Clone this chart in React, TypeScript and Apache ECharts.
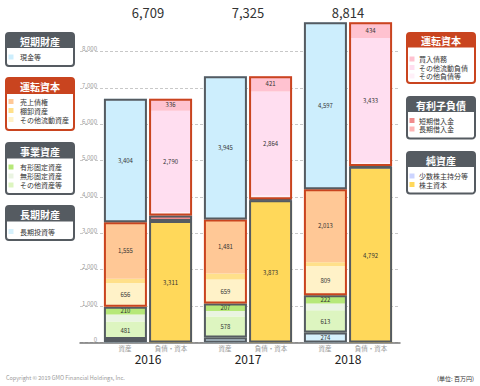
import React, { useEffect, useRef } from 'react';
import * as echarts from 'echarts';

const years = ['2016', '2017', '2018'];
// 資産 (assets), bottom -> top
const longTermInvestments = [93, 135, 274];
const otherAssets = [481, 578, 613];
const intangibleAssets = [195, 150, 186];
const tangibleAssets = [210, 207, 222];
const otherCurrentAssets = [656, 659, 809];
const inventories = [115, 170, 100];
const receivables = [1555, 1481, 2013];
const cash = [3404, 3945, 4597];
// 負債・資本 (liabilities & equity), bottom -> top
const shareholdersEquity = [3311, 3873, 4792];
const minorityInterests = [32, 42, 45];
const longTermLoans = [30, 0, 0];
const shortTermLoans = [120, 25, 20];
const otherLiabilities = [90, 100, 90];
const otherCurrentLiabilities = [2790, 2864, 3433];
const payables = [336, 421, 434];

const yTickStep = 1000;
const yMax = 9000;

const FONT = '"Noto Sans CJK JP", "Noto Sans", sans-serif';
const GRAY = '#555b61';
const RED = '#c9441f';

const C = {
  cash: '#cdeefd',
  receivables: '#ffc896',
  inventories: '#ffe08a',
  otherCurrentAssets: '#fff2c8',
  tangible: '#b6e879',
  intangible: '#eaf4e2',
  otherAssets: '#ddf5c0',
  longTerm: '#d6f1fc',
  payables: '#ffc2d0',
  otherCurrentLiab: '#ffdef0',
  otherLiab: '#fff0f8',
  shortLoans: '#f08c8c',
  longLoans: '#ffb6b6',
  minority: '#ccd4ff',
  equity: '#ffd85a',
};

const sum = (...arrs: number[][]) => arrs[0].map((_, i) => arrs.reduce((s, a) => s + a[i], 0));
const totals = sum(longTermInvestments, otherAssets, intangibleAssets, tangibleAssets, otherCurrentAssets, inventories, receivables, cash);
const fmt = (v: number) => v.toLocaleString('en-US');

const assetSegments = [
  { name: '長期投資等', data: longTermInvestments, color: C.longTerm },
  { name: 'その他資産等', data: otherAssets, color: C.otherAssets },
  { name: '無形固定資産', data: intangibleAssets, color: C.intangible },
  { name: '有形固定資産', data: tangibleAssets, color: C.tangible },
  { name: 'その他流動資産', data: otherCurrentAssets, color: C.otherCurrentAssets },
  { name: '棚卸資産', data: inventories, color: C.inventories },
  { name: '売上債権', data: receivables, color: C.receivables },
  { name: '現金等', data: cash, color: C.cash },
];
const liabSegments = [
  { name: '株主資本', data: shareholdersEquity, color: C.equity },
  { name: '少数株主持分等', data: minorityInterests, color: C.minority },
  { name: '長期借入金', data: longTermLoans, color: C.longLoans },
  { name: '短期借入金', data: shortTermLoans, color: C.shortLoans },
  { name: 'その他負債等', data: otherLiabilities, color: C.otherLiab },
  { name: 'その他流動負債', data: otherCurrentLiabilities, color: C.otherCurrentLiab },
  { name: '買入債務', data: payables, color: C.payables },
];
const assetGroups = [
  { data: longTermInvestments, frame: GRAY },
  { data: sum(otherAssets, intangibleAssets, tangibleAssets), frame: GRAY },
  { data: sum(otherCurrentAssets, inventories, receivables), frame: RED },
  { data: cash, frame: GRAY },
];
const liabGroups = [
  { data: sum(shareholdersEquity, minorityInterests), frame: GRAY },
  { data: sum(longTermLoans, shortTermLoans), frame: GRAY },
  { data: sum(otherLiabilities, otherCurrentLiabilities, payables), frame: RED },
];

const BAR_W = 43;
const BAR_GAP = '5%';

function segSeries(seg: any, stack: string) {
  return {
    type: 'bar', name: seg.name, stack, xAxisIndex: 1, yAxisIndex: 1,
    data: seg.data, barWidth: BAR_W, barGap: BAR_GAP,
    itemStyle: { color: seg.color },
    label: {
      show: true, position: 'inside', fontSize: 6, color: '#333', fontFamily: FONT,
      formatter: (p: any) => (p.value >= 200 ? fmt(p.value) : ''),
    },
    silent: true,
  };
}
function frameSeries(g: any, stack: string) {
  return {
    type: 'bar', stack, xAxisIndex: 3, yAxisIndex: 1,
    data: g.data, barWidth: BAR_W, barGap: BAR_GAP,
    itemStyle: { color: 'rgba(0,0,0,0)', borderColor: g.frame, borderWidth: 2 },
    label: { show: false }, silent: true, z: 5,
  };
}

function legendBox(x: number, y: number, w: number, h: number, headH: number, title: string, frame: string,
  items: { name: string; color: string }[], firstY: number, step: number, sqOff: number, txtOff: number) {
  const children: any[] = [
    { type: 'rect', shape: { x, y, width: w, height: h, r: 3 }, style: { fill: '#fff', stroke: frame, lineWidth: 2 } },
    { type: 'rect', shape: { x, y, width: w, height: headH, r: [3, 3, 0, 0] }, style: { fill: frame } },
    { type: 'text', x: x + w / 2, y: y + headH / 2 + 0.5, style: { text: title, fill: '#fff', fontSize: 10, fontWeight: 'bold', fontFamily: FONT, align: 'center', verticalAlign: 'middle' } },
  ];
  items.forEach((it, i) => {
    const cy = firstY + i * step;
    children.push({ type: 'rect', shape: { x: x + sqOff, y: cy - 2.5, width: 5, height: 5 }, style: { fill: it.color } });
    children.push({ type: 'text', x: x + txtOff, y: cy, style: { text: it.name, fill: '#333', fontSize: 7, fontFamily: FONT, align: 'left', verticalAlign: 'middle' } });
  });
  return { type: 'group', children };
}

const graphics = [
  legendBox(6, 33, 68, 33, 15, '短期財産', GRAY, [{ name: '現金等', color: C.cash }], 57, 9, 2.5, 14),
  legendBox(6, 78, 68, 52, 16, '運転資本', RED, [
    { name: '売上債権', color: C.receivables },
    { name: '棚卸資産', color: C.inventories },
    { name: 'その他流動資産', color: C.otherCurrentAssets },
  ], 101.5, 9, 2.5, 14),
  legendBox(6, 143, 68, 51, 15.5, '事業資産', GRAY, [
    { name: '有形固定資産', color: C.tangible },
    { name: '無形固定資産', color: C.intangible },
    { name: 'その他資産等', color: C.otherAssets },
  ], 167, 9, 2.5, 14),
  legendBox(6, 206, 68, 34, 15.5, '長期財産', GRAY, [{ name: '長期投資等', color: C.longTerm }], 231.5, 9, 2.5, 14),
  legendBox(407, 33, 68, 50, 14.5, '運転資本', RED, [
    { name: '買入債務', color: C.payables },
    { name: 'その他流動負債', color: C.otherCurrentLiab },
    { name: 'その他負債等', color: C.otherLiab },
  ], 59, 8.5, 2.5, 12),
  legendBox(407, 97, 68, 41.5, 15, '有利子負債', GRAY, [
    { name: '短期借入金', color: C.shortLoans },
    { name: '長期借入金', color: C.longLoans },
  ], 120.5, 8.5, 2.5, 12),
  legendBox(407, 152, 68, 41.5, 15, '純資産', GRAY, [
    { name: '少数株主持分等', color: C.minority },
    { name: '株主資本', color: C.equity },
  ], 176, 8.5, 2.5, 12),
  { type: 'text', x: 6, y: 378, style: { text: 'Copyright © 2019 GMO Financial Holdings, Inc.', fill: '#999', fontSize: 5.5, fontFamily: FONT, align: 'left', verticalAlign: 'middle' } },
  { type: 'text', x: 474, y: 378, style: { text: '(単位: 百万円)', fill: '#333', fontSize: 6, fontFamily: FONT, align: 'right', verticalAlign: 'middle' } },
];

const option: any = {
  animation: false,
  backgroundColor: '#fff',
  textStyle: { fontFamily: FONT },
  grid: [
    { left: 80, width: 320, top: 15.4, height: 327 },
    { left: 98, width: 300, top: 15.4, height: 327 },
  ],
  xAxis: [
    { gridIndex: 0, type: 'value', min: 0, max: 1, axisLine: { show: true, onZero: false, lineStyle: { color: '#777', width: 1.5 } }, axisTick: { show: false }, axisLabel: { show: false }, splitLine: { show: false } },
    {
      gridIndex: 1, type: 'category', data: years, position: 'bottom',
      axisLine: { show: false }, axisTick: { show: false },
      axisLabel: {
        margin: 1, interval: 0,
        formatter: (v: string) => `{a|資産}{b|負債・資本}\n{y|${v}}`,
        rich: {
          a: { width: 46, align: 'center', fontSize: 6.5, color: '#999', lineHeight: 9, fontFamily: FONT },
          b: { width: 46, align: 'center', fontSize: 6.5, color: '#999', lineHeight: 9, fontFamily: FONT },
          y: { fontSize: 12, color: '#222', lineHeight: 12, fontFamily: FONT, align: 'center' },
        },
      },
    },
    {
      gridIndex: 1, type: 'category', data: years, position: 'top',
      axisLine: { show: false }, axisTick: { show: false },
      axisLabel: { margin: 3, verticalAlign: 'middle', fontSize: 13, color: '#333', fontFamily: FONT, formatter: (_: string, i: number) => fmt(totals[i]) },
    },
    { gridIndex: 1, type: 'category', data: years, show: false },
  ],
  yAxis: [
    {
      gridIndex: 0, type: 'value', min: 0, max: yMax, interval: yTickStep,
      axisLine: { show: false }, axisTick: { show: false },
      axisLabel: { inside: true, align: 'right', margin: 17, verticalAlign: 'bottom', fontSize: 6, color: '#999', fontFamily: FONT, showMaxLabel: false, formatter: (v: number) => fmt(v) },
      splitLine: { show: true, showMaxLine: false, lineStyle: { color: '#c8c8c8', type: [3, 2], width: 1 } },
    },
    { gridIndex: 1, type: 'value', min: 0, max: yMax, interval: yTickStep, show: false, splitLine: { show: false } },
  ],
  series: [
    ...assetSegments.map((s) => segSeries(s, 'assets')),
    ...liabSegments.map((s) => segSeries(s, 'liab')),
    ...assetGroups.map((g) => frameSeries(g, 'assetsFrame')),
    ...liabGroups.map((g) => frameSeries(g, 'liabFrame')),
  ],
  graphic: graphics,
};

export default function App() {
  const ref = useRef<HTMLDivElement>(null);
  useEffect(() => {
    const chart = echarts.init(ref.current!, null, { renderer: 'svg' });
    chart.setOption(option);
    return () => chart.dispose();
  }, []);
  return <div ref={ref} style={{ position: 'fixed', left: 0, top: 0, width: 480, height: 386, background: '#fff' }} />;
}
